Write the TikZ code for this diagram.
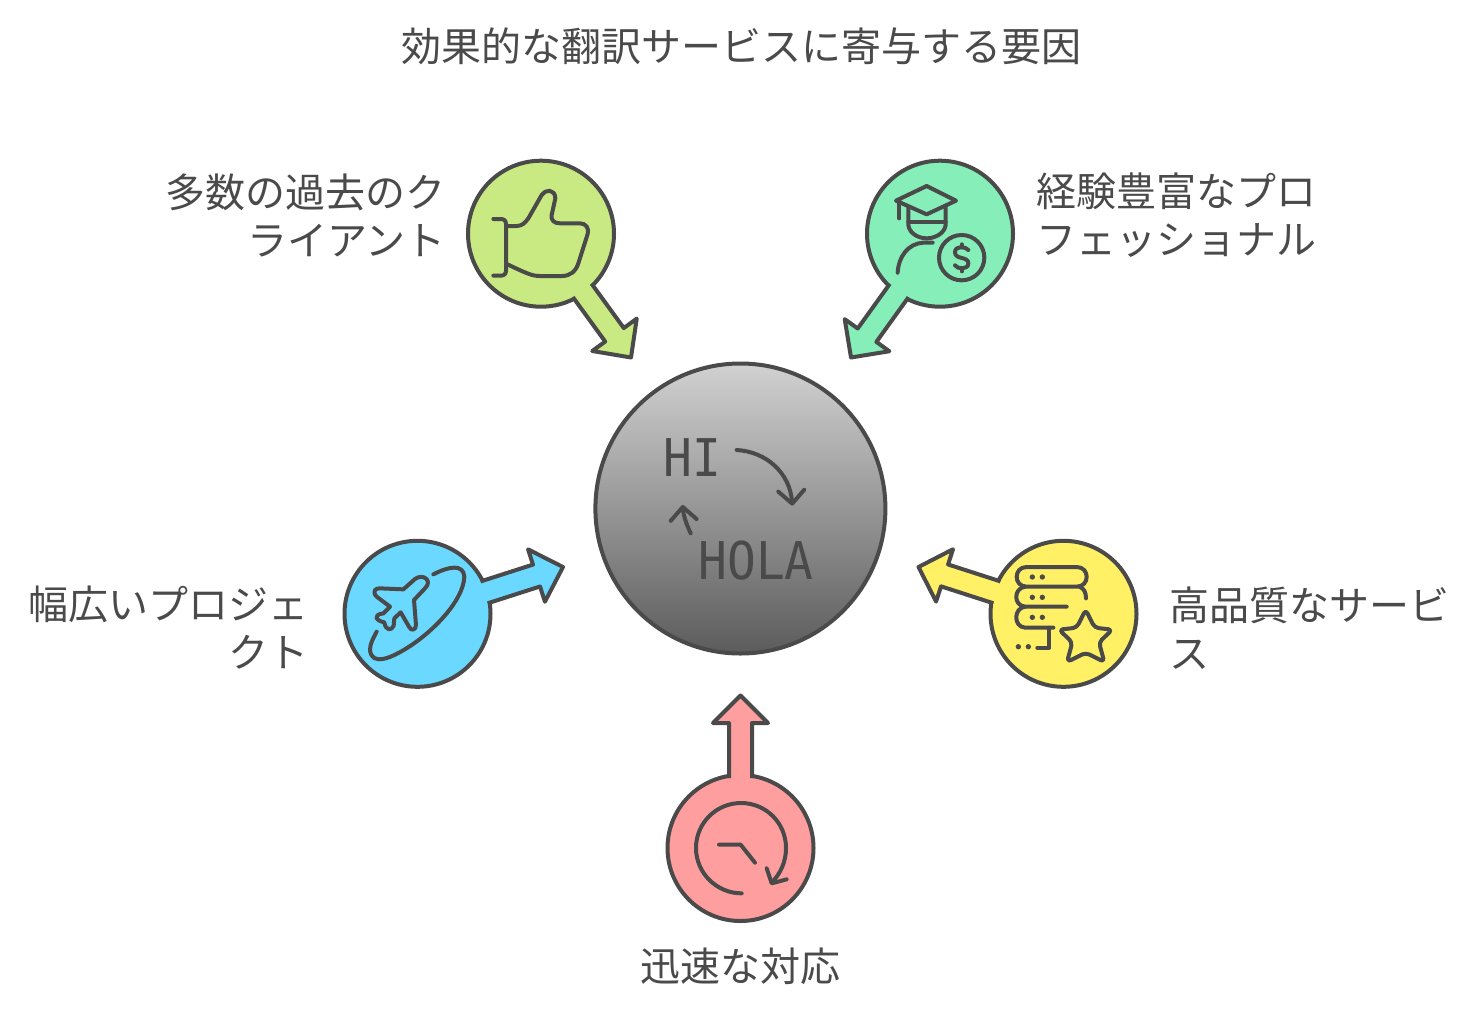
\documentclass[tikz,border=0pt]{standalone}
\usepackage{xcolor}
\usepackage{fontspec}
\setmainfont{Noto Sans CJK JP}
\newfontfamily\hubmono[FakeStretch=0.92]{DejaVu Sans Mono}
\usetikzlibrary{arrows.meta, calc, positioning}
\definecolor{ink}{RGB}{74,74,74}
\definecolor{hubgreen}{RGB}{201,234,130}
\definecolor{hubmint}{RGB}{134,238,184}
\definecolor{hubblue}{RGB}{107,216,255}
\definecolor{hubyellow}{RGB}{255,240,102}
\definecolor{hubred}{RGB}{255,158,158}
\newcommand{\spokept}[2]{($(\tikztostart)!#1!(\tikztotarget)!#2!90:(\tikztotarget)$)}
\begin{document}
\begin{tikzpicture}[
    x=0.5pt, y=-0.5pt,
    hub/.style={circle, draw=ink, line width=2pt, minimum size=73pt, inner sep=0pt},
    centrehub/.style={circle, draw=ink, line width=2pt, minimum size=145pt, inner sep=0pt, top color=black!18, bottom color=black!64},
    blurb/.style={text=ink, inner sep=0pt, font=\fontsize{20}{24}\selectfont},
    hubglyph/.style={text=ink, inner sep=0pt, anchor=base, font=\hubmono\fontsize{26}{26}\selectfont},
    iconline/.style={draw=ink, line width=2pt, line cap=round, line join=round},
    swaparrow/.style={iconline, -{Straight Barb[length=6.5pt, width=13pt, line width=2pt, round]}},
    spoke/.style={draw=ink, line width=2pt, line join=round, to path={
        \spokept{35pt}{5.75pt} -- \spokept{62.5pt}{5.75pt} -- \spokept{62.5pt}{13.75pt}
        -- (\tikztotarget)
        -- \spokept{62.5pt}{-13.75pt} -- \spokept{62.5pt}{-5.75pt} -- \spokept{35pt}{-5.75pt}}}
]
\useasboundingbox (0,0) rectangle (1478,1018);

% Title
\node[blurb] (title) at (741,46) {効果的な翻訳サービスに寄与する要因};

% Hubs
\node[centrehub] (hubCentre) at (740.4,508.5) {};
\node[hub, fill=hubgreen] (hubClients) at (541,233.7) {};
\node[hub, fill=hubmint] (hubExperts) at (940,233.7) {};
\node[hub, fill=hubblue] (hubProjects) at (417.5,613.8) {};
\node[hub, fill=hubyellow] (hubQuality) at (1063.5,613.8) {};
\node[hub, fill=hubred] (hubSpeed) at (740.5,848) {};

% Arrow tips
\coordinate (tipClients) at (631,357.5);
\coordinate (tipExperts) at (851,357.5);
\coordinate (tipProjects) at (563,567);
\coordinate (tipQuality) at (918.5,567);
\coordinate (tipSpeed) at (740.5,695.5);

% Arrows
\draw[spoke, fill=hubgreen] (hubClients) to (tipClients);
\draw[spoke, fill=hubmint] (hubExperts) to (tipExperts);
\draw[spoke, fill=hubblue] (hubProjects) to (tipProjects);
\draw[spoke, fill=hubyellow] (hubQuality) to (tipQuality);
\draw[spoke, fill=hubred] (hubSpeed) to (tipSpeed);

% Labels
\node[blurb, anchor=east, align=right] (lblClients) at (446,215) {多数の過去のク\\ライアント};
\node[blurb, anchor=west, align=left] (lblExperts) at (1036,215) {経験豊富なプロ\\フェッショナル};
\node[blurb, anchor=east, align=right] (lblProjects) at (309,628) {幅広いプロジェ\\クト};
\node[blurb, anchor=west, align=left] (lblQuality) at (1169,628) {高品質なサービ\\ス};
\node[blurb] (lblSpeed) at (740,966) {迅速な対応};

% Centre glyphs
\node[hubglyph] (txtHi) at (692.5,476) {HI};
\node[hubglyph] (txtHola) at (756,579) {HOLA};
\begin{scope}[shift={(590,360)}, scale=1/3]
\coordinate (swapFrom) at (440,270);
\coordinate (swapTo) at (607,437);
\coordinate (backFrom) at (302,520);
\coordinate (backTo) at (278,435);
\draw[swaparrow] (swapFrom) .. controls (530,275) and (600,340) .. (swapTo);
\draw[swaparrow] (backFrom) .. controls (288,490) and (280,465) .. (backTo);
\end{scope}

% Thumb icon
\begin{scope}[shift={(460,150)}, scale=1/3]
\draw[iconline] (100,207) -- (122,207) .. controls (132,207) and (138,212) .. (138,222) -- (138,362) .. controls (138,372) and (132,377) .. (122,377) -- (100,377);
\draw[iconline] (140,228) -- (170,228) .. controls (186,228) and (196,218) .. (205,205) -- (245,135) .. controls (255,118) and (285,115) .. (286,145) -- (275,195) .. controls (272,210) and (282,220) .. (300,220) -- (360,220) .. controls (378,220) and (388,235) .. (383,252) -- (355,340) .. controls (347,365) and (330,378) .. (305,378) -- (240,378) .. controls (215,378) and (200,370) .. (140,342);
\end{scope}

% Graduate icon
\begin{scope}[shift={(840,150)}, scale=1/3]
\draw[iconline] (168,152) -- (260,108) -- (348,152) -- (260,193) -- cycle;
\draw[iconline] (178,155) -- (178,205);
\draw[iconline] (205,172) -- (205,225) .. controls (208,250) and (235,265) .. (260,265) .. controls (285,265) and (314,250) .. (317,225) -- (317,172);
\draw[iconline] (205,215) -- (317,215);
\draw[iconline] (278,278) -- (250,278) .. controls (205,280) and (175,320) .. (173,368);
\draw[iconline] (365,323) circle [radius=68];
\draw[iconline] (385,300) .. controls (378,290) and (345,285) .. (345,307) .. controls (345,330) and (385,318) .. (385,340) .. controls (385,360) and (352,358) .. (345,346);
\draw[iconline] (365,283) -- (365,292);
\draw[iconline] (365,355) -- (365,364);
\end{scope}

% Plane icon
\begin{scope}[shift={(335,535)}, scale=1/3]
\draw[iconline] (295,118) .. controls (340,95) and (385,85) .. (388,125) .. controls (385,200) and (290,290) .. (230,330) .. controls (170,370) and (110,395) .. (105,345) .. controls (105,325) and (115,310) .. (125,290);
\draw[iconline] (205,163) -- (240,132) .. controls (262,115) and (295,135) .. (270,160) -- (237,195) -- (243,270) .. controls (243,285) and (228,290) .. (222,275) -- (197,232) -- (178,250) -- (176,272) .. controls (170,288) and (152,288) .. (148,262) .. controls (125,258) and (110,240) .. (145,235) -- (165,215) -- (125,185) .. controls (110,170) and (122,158) .. (135,160) -- cycle;
\end{scope}

% Server star icon
\begin{scope}[shift={(910,535)}, scale=1/3]
\draw[iconline] (350,96) -- (500,96) .. controls (540,96) and (540,155) .. (500,155) -- (350,155) .. controls (310,155) and (310,96) .. (350,96) -- cycle;
\draw[iconline] (345,155) .. controls (310,160) and (310,212) .. (345,215) -- (470,215);
\draw[iconline] (508,155) .. controls (522,160) and (528,172) .. (528,190);
\draw[iconline] (345,215) .. controls (310,220) and (310,275) .. (345,278) -- (430,278);
\draw[iconline] (418,278) -- (418,338) -- (382,338);
\foreach \dotx/\doty in {367/126, 397/126, 367/187, 397/187, 367/247, 397/247, 325/335, 355/335}
  \fill[ink] (\dotx,\doty) circle [radius=8];
\draw[iconline, rounded corners=2pt] (527,224) -- (554,278) -- (607,284) -- (567,322) -- (583,381) -- (527,353) -- (471,381) -- (487,322) -- (447,284) -- (500,278) -- cycle;
\end{scope}

% Clock icon
\begin{scope}[shift={(650,690)}, scale=1/3]
\draw[iconline] (275,610) .. controls (200,610) and (138,549) .. (138,474) .. controls (138,399) and (199,339) .. (273,339) .. controls (348,339) and (408,399) .. (408,474) .. controls (408,515) and (392,550) .. (365,578);
\draw[iconline] (350,535) -- (365,580) -- (410,568);
\draw[iconline] (207,464) -- (272,464) -- (315,518);
\end{scope}

\end{tikzpicture}
\end{document}
